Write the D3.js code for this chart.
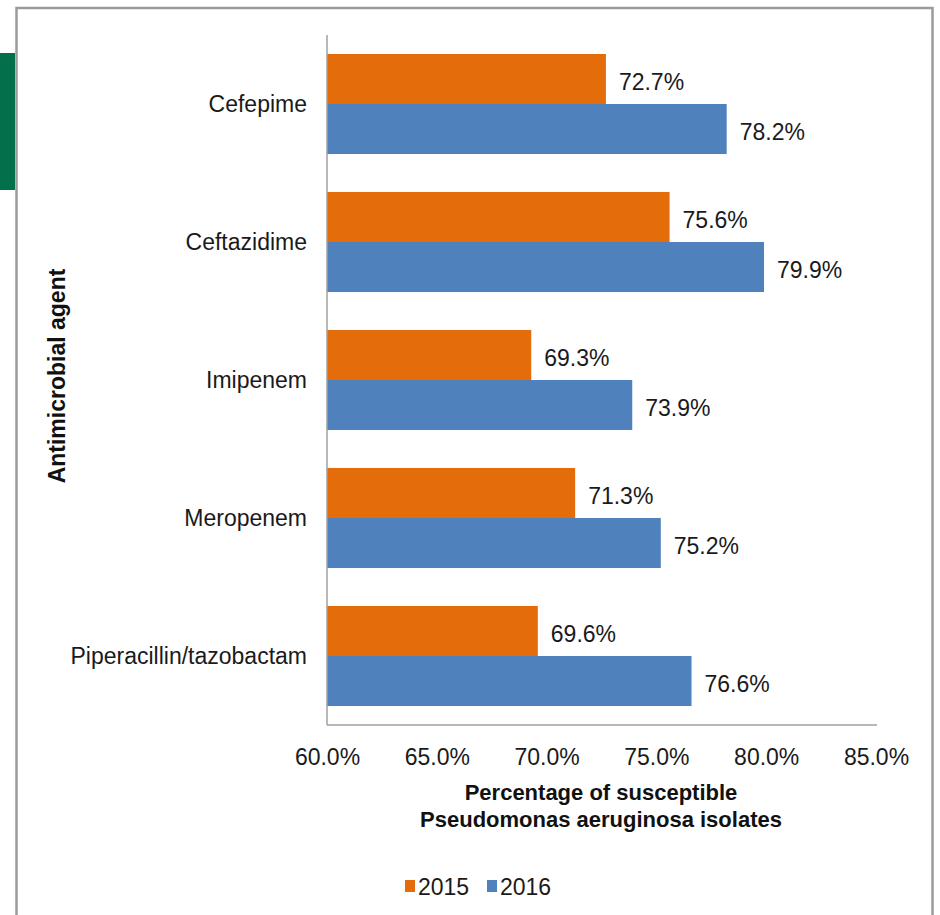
<!DOCTYPE html>
<html>
<head>
<meta charset="utf-8">
<script src="https://cdn.jsdelivr.net/npm/d3@7"></script>
<style>
html,body{margin:0;padding:0;background:#fff;}
svg{display:block;font-family:"Liberation Sans",Arial,sans-serif;}
</style>
</head>
<body>
<svg id="chart" width="940" height="915"></svg>
<script>
const categories = ["Cefepime","Ceftazidime","Imipenem","Meropenem","Piperacillin/tazobactam"];
const seriesNames = ["2015","2016"];
const values2015 = [72.7, 75.6, 69.3, 71.3, 69.6];
const values2016 = [78.2, 79.9, 73.9, 75.2, 76.6];
const xTicks = [60, 65, 70, 75, 80, 85];
const colors = {"2015":"#E46C0A","2016":"#4F81BD"};

const svg = d3.select("#chart");
svg.append("rect").attr("width",940).attr("height",915).attr("fill","#fff");
// green side tab
svg.append("rect").attr("x",0).attr("y",53).attr("width",15).attr("height",137).attr("fill","#04704B");
// frame
svg.append("rect").attr("x",16.5).attr("y",8).attr("width",916).attr("height",930)
  .attr("fill","none").attr("stroke","#9b9b9b").attr("stroke-width",2.5);

const x = d3.scaleLinear().domain([60,85]).range([327,876]);
const y = d3.scaleBand().domain(categories).range([35,725]).paddingInner(0.275).paddingOuter(0.1375);
const ySub = d3.scaleBand().domain(seriesNames).range([0,y.bandwidth()]);

const data = [];
categories.forEach((c,i)=>{
  data.push({cat:c, s:"2015", v:values2015[i]});
  data.push({cat:c, s:"2016", v:values2016[i]});
});

svg.selectAll("rect.bar").data(data).enter().append("rect")
  .attr("class","bar")
  .attr("x", x(60))
  .attr("y", d=>y(d.cat)+ySub(d.s))
  .attr("width", d=>x(d.v)-x(60))
  .attr("height", ySub.bandwidth())
  .attr("fill", d=>colors[d.s]);

svg.selectAll("text.val").data(data).enter().append("text")
  .attr("class","val")
  .attr("x", d=>x(d.v)+13)
  .attr("y", d=>y(d.cat)+ySub(d.s)+ySub.bandwidth()/2+11)
  .attr("font-size",23).attr("fill","#1a1a1a")
  .text(d=>d.v.toFixed(1)+"%");

// axes
const xAxis = d3.axisBottom(x).tickValues(xTicks).tickSize(0).tickPadding(0)
  .tickFormat(d=>d.toFixed(1)+"%");
const gx = svg.append("g").attr("transform","translate(0,725)").call(xAxis);
gx.select(".domain").attr("stroke","#a0a0a0").attr("stroke-width",1.5).attr("d","M327,0H877");
gx.selectAll("text").attr("font-size",23).attr("font-family","Liberation Sans, Arial, sans-serif")
  .attr("fill","#1a1a1a").attr("y",40).attr("dy",0);

const yAxis = d3.axisLeft(y).tickSize(0).tickPadding(20);
const gy = svg.append("g").attr("transform","translate(327,0)").call(yAxis);
gy.select(".domain").attr("stroke","#a0a0a0").attr("stroke-width",1.5).attr("d","M0,35V725");
gy.selectAll("text").attr("font-size",23).attr("font-family","Liberation Sans, Arial, sans-serif")
  .attr("fill","#1a1a1a").attr("dy","0.36em");

// axis titles
svg.append("text").attr("x",601).attr("y",800).attr("text-anchor","middle")
  .attr("font-size",22).attr("font-weight","bold").attr("fill","#111")
  .text("Percentage of susceptible");
svg.append("text").attr("x",601).attr("y",827).attr("text-anchor","middle")
  .attr("font-size",22).attr("font-weight","bold").attr("fill","#111")
  .text("Pseudomonas aeruginosa isolates");
svg.append("text").attr("transform","translate(65,376) rotate(-90)").attr("text-anchor","middle")
  .attr("font-size",23).attr("font-weight","bold").attr("fill","#111")
  .text("Antimicrobial agent");

// legend
const legendX = [405, 487];
const lg = svg.selectAll("g.leg").data(seriesNames).enter().append("g")
  .attr("transform",(d,i)=>`translate(${legendX[i]},880)`);
lg.append("rect").attr("width",10).attr("height",12).attr("fill",d=>colors[d]);
lg.append("text").attr("x",13).attr("y",15).attr("font-size",23).attr("fill","#1a1a1a").text(d=>d);
</script>
</body>
</html>
